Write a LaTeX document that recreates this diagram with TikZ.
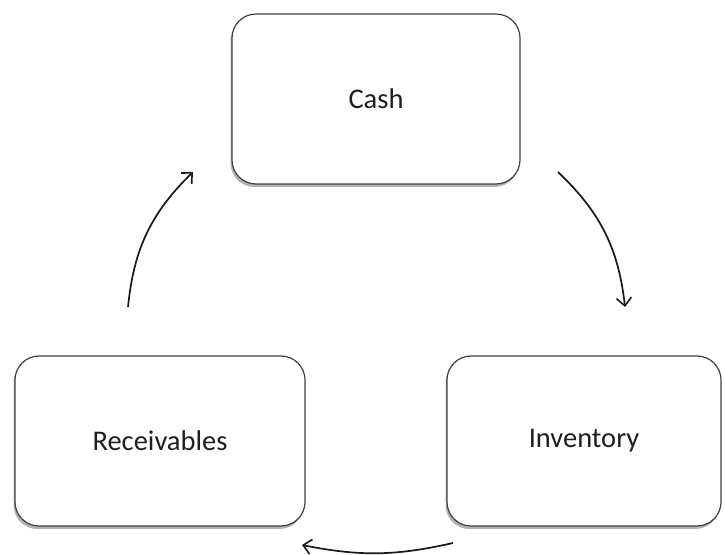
\documentclass[tikz,border=0pt]{standalone}
\usepackage{fontspec}
\setmainfont{Carlito}
\usetikzlibrary{arrows.meta,shadows}
\begin{document}
\begin{tikzpicture}[x=1pt,y=1pt,
  box/.style={draw=black!75, line width=1.2pt, rounded corners=24pt, fill=white,
    minimum width=#1, minimum height=170pt, inner sep=0pt,
    drop shadow={shadow xshift=-1.5pt, shadow yshift=-3pt, opacity=0.5, fill=black!60},
    font=\fontsize{28.5}{32}\selectfont, text=black!88},
  flow/.style={draw=black!90, line width=1.7pt, -{Straight Barb[length=8pt,width=15pt,line width=1.6pt]}}]
\useasboundingbox (0,0) rectangle (725,554);
\node[box=288pt] (cash) at (376,455) {Cash};
\node[box=290pt] (rec) at (160,113) {Receivables};
\node[box=274pt] (inv) at (584,113) {Inventory};
\coordinate (a1) at (128,247);
\coordinate (a2) at (193,382);
\coordinate (b1) at (558,382);
\coordinate (b2) at (625,247);
\coordinate (c1) at (453,11);
\coordinate (c2) at (302,9);
\draw[flow] (a1) to[bend left=20] (a2);
\draw[flow] (b1) to[bend left=20] (b2);
\draw[flow] (c1) to[bend left=12] (c2);
\end{tikzpicture}
\end{document}
